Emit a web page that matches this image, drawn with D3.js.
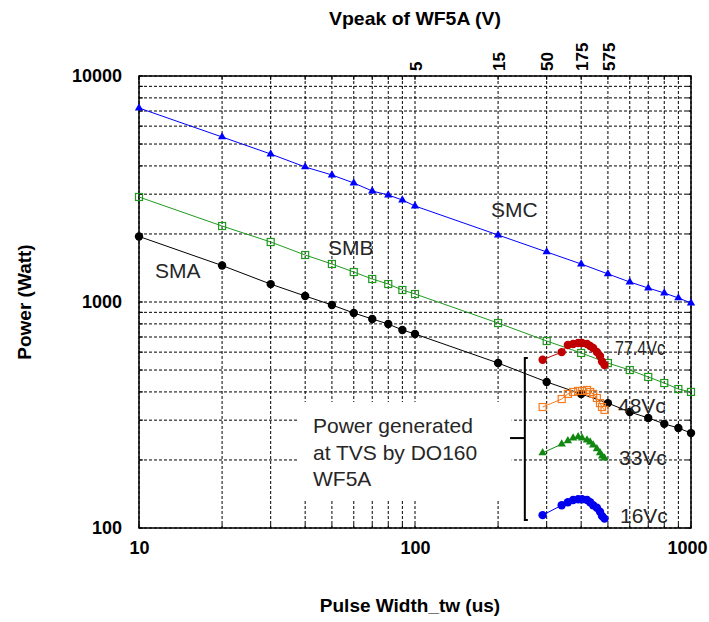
<!DOCTYPE html>
<html>
<head>
<meta charset="utf-8">
<script src="https://cdn.jsdelivr.net/npm/d3@7"></script>
<style>
  body { margin: 0; background: #fff; }
  svg { display: block; font-family: Arial, "Liberation Sans", sans-serif; }
</style>
</head>
<body>
<div id="chart"></div>
<script>
// pulse width (us) for the SMA / SMB / SMC derating lines
const pulseWidth = [10, 20, 30, 40, 50, 60, 70, 80, 90, 100, 200, 300, 400, 500, 600, 700, 800, 900, 1000];
const smaPower = [1950, 1450, 1200, 1063, 970, 894, 841, 799, 752, 722, 537, 443, 392, 357, 326, 307, 289, 277, 263];
const smbPower = [2915, 2169, 1843, 1614, 1473, 1357, 1264, 1201, 1130, 1085, 807, 672, 595, 537, 500, 466, 438, 412, 400];
const smcPower = [7217, 5373, 4517, 3958, 3648, 3362, 3098, 2974, 2827, 2659, 1979, 1665, 1473, 1331, 1226, 1153, 1096, 1042, 990];

// power generated at the TVS by DO160 WF5A
const wf5aTw = [290, 340, 358, 374, 390, 403, 420, 431, 442, 456, 468, 476, 486];
const wf5a774 = [555, 600, 645, 652, 659, 659, 652, 639, 626, 601, 577, 545, 526];
const wf5a48 = [343, 372, 392, 400, 404, 404, 408, 400, 392, 376, 357, 343, 333];
const wf5a33 = [215, 235, 243, 250, 253, 250, 245, 240, 233, 224, 215, 208, 204];
const wf5a16 = [114, 126, 130, 133, 134, 134, 133, 130, 126, 123, 118, 113, 110];

// axis ticks
const xTicks = [10, 100, 1000];
const yTicks = [100, 1000, 10000];
const topTicks = [100, 200, 300, 400, 500];
const topTickLabels = ["5", "15", "50", "175", "575"];

const W = 709, H = 622;
const margin = { top: 76, right: 18, bottom: 94, left: 139 };
const width = W - margin.left - margin.right;
const height = H - margin.top - margin.bottom;

const svg = d3.select("#chart").append("svg").attr("width", W).attr("height", H);
const g = svg.append("g").attr("transform", `translate(${margin.left},${margin.top})`);

const x = d3.scaleLog().domain([10, 1000]).range([0, width]);
const y = d3.scaleLog().domain([100, 10000]).range([height, 0]);

// dotted grid on every 1..9 step
const grid = g.append("g").attr("stroke", "#000").attr("stroke-width", 1).attr("stroke-dasharray", "3,2");
grid.selectAll(".gx").data(x.ticks()).enter().append("line")
  .attr("x1", d => x(d)).attr("x2", d => x(d)).attr("y1", 0).attr("y2", height);
grid.selectAll(".gy").data(y.ticks()).enter().append("line")
  .attr("y1", d => y(d)).attr("y2", d => y(d)).attr("x1", 0).attr("x2", width);

// white patch behind the note text
g.append("rect")
  .attr("x", x(37.4)).attr("y", y(361))
  .attr("width", x(224) - x(37.4)).attr("height", y(134) - y(361))
  .attr("fill", "#fff");

// frame + small inner ticks
g.append("rect").attr("width", width).attr("height", height)
  .attr("fill", "none").attr("stroke", "#000").attr("stroke-width", 1.5);
const tk = g.append("g").attr("stroke", "#000").attr("stroke-width", 1);
x.ticks().forEach(d => {
  tk.append("line").attr("x1", x(d)).attr("x2", x(d)).attr("y1", height).attr("y2", height - 4);
  tk.append("line").attr("x1", x(d)).attr("x2", x(d)).attr("y1", 0).attr("y2", 4);
});
y.ticks().forEach(d => {
  tk.append("line").attr("y1", y(d)).attr("y2", y(d)).attr("x1", 0).attr("x2", 4);
  tk.append("line").attr("y1", y(d)).attr("y2", y(d)).attr("x1", width).attr("x2", width - 4);
});

// axes
const bottomAxis = g.append("g").attr("transform", `translate(0,${height})`)
  .call(d3.axisBottom(x).tickValues(xTicks).tickFormat(d3.format("d")).tickSize(0).tickPadding(13));
const leftAxis = g.append("g")
  .call(d3.axisLeft(y).tickValues(yTicks).tickFormat(d3.format("d")).tickSize(0).tickPadding(17));
const topAxis = g.append("g")
  .call(d3.axisTop(x).tickValues(topTicks).tickFormat((d, i) => topTickLabels[i]).tickSize(0));

[bottomAxis, leftAxis, topAxis].forEach(a => {
  a.select(".domain").remove();
  a.selectAll("text").attr("fill", "#000").style("font-size", "18px").style("font-weight", "bold")
    .style("font-family", "Arial, 'Liberation Sans', sans-serif");
});
// keep "1000" inside the window
bottomAxis.selectAll("text").filter(d => d === 1000).attr("dx", -4);
topAxis.selectAll("text")
  .attr("transform", "rotate(-90)")
  .attr("x", 5).attr("y", 0).attr("dy", "0.36em")
  .attr("text-anchor", "start")
  .style("font-size", "17px");

// series helpers
const line = d3.line().x(d => x(d[0])).y(d => y(d[1]));
function drawSeries(tw, vals, color, marker, lw) {
  const pts = tw.map((t, i) => [t, vals[i]]);
  const s = g.append("g");
  s.append("path").datum(pts).attr("d", line)
    .attr("fill", "none").attr("stroke", color).attr("stroke-width", lw);
  if (marker === "circle") {
    s.selectAll("circle").data(pts).enter().append("circle")
      .attr("cx", d => x(d[0])).attr("cy", d => y(d[1])).attr("r", 4.2).attr("fill", color);
  } else if (marker === "square") {
    s.selectAll("rect").data(pts).enter().append("rect")
      .attr("x", d => x(d[0]) - 3.5).attr("y", d => y(d[1]) - 3.5)
      .attr("width", 7).attr("height", 7)
      .attr("fill", "none").attr("stroke", color).attr("stroke-width", 1.2);
  } else {
    s.selectAll("path.m").data(pts).enter().append("path").attr("class", "m")
      .attr("d", d3.symbol(d3.symbolTriangle, 30))
      .attr("transform", d => `translate(${x(d[0])},${y(d[1])})`)
      .attr("fill", color);
  }
}

drawSeries(pulseWidth, smcPower, "#0000ff", "triangle", 1);
drawSeries(pulseWidth, smbPower, "#1f9a1f", "square", 1);
drawSeries(pulseWidth, smaPower, "#000000", "circle", 1);

drawSeries(wf5aTw, wf5a774, "#c00000", "circle", 1);
drawSeries(wf5aTw, wf5a48, "#f47b20", "square", 1);
drawSeries(wf5aTw, wf5a33, "#118811", "triangle", 1);
drawSeries(wf5aTw, wf5a16, "#0000ee", "circle", 1);

// bracket grouping the WF5A curves
const bx = x(250);
const br = g.append("g").attr("stroke", "#000").attr("stroke-width", 2).attr("fill", "none");
br.append("path").attr("d",
  `M${bx + 3},${y(565)} L${bx},${y(565)} L${bx},${y(108.5)} L${bx + 3},${y(108.5)}`);
br.append("line").attr("x1", x(221)).attr("x2", bx).attr("y1", y(250)).attr("y2", y(250));

// in-plot annotations
const note = g.append("g").attr("fill", "#262626").style("font-size", "21px");
note.append("text").attr("x", 16).attr("y", 202).text("SMA");
note.append("text").attr("x", 189).attr("y", 179).text("SMB");
note.append("text").attr("x", 352).attr("y", 141).text("SMC");
const pg = note.append("text").attr("x", 174).attr("y", 357);
["Power generated", "at TVS by DO160", "WF5A"].forEach((t, i) => {
  pg.append("tspan").attr("x", 174).attr("dy", i === 0 ? 0 : 26.5).text(t);
});
note.append("text").attr("x", 476).attr("y", 279).attr("textLength", 50).attr("lengthAdjust", "spacingAndGlyphs").text("77.4Vc");
note.append("text").attr("x", 479).attr("y", 337).text("48Vc");
note.append("text").attr("x", 480).attr("y", 389).text("33Vc");
note.append("text").attr("x", 481).attr("y", 447).text("16Vc");

// axis titles
svg.append("text").attr("x", 415).attr("y", 25).attr("text-anchor", "middle")
  .style("font-size", "19px").style("font-weight", "bold")
  .attr("textLength", 172).attr("lengthAdjust", "spacingAndGlyphs")
  .text("Vpeak of WF5A (V)");
svg.append("text").attr("transform", "translate(31,302) rotate(-90)").attr("text-anchor", "middle")
  .style("font-size", "19px").style("font-weight", "bold")
  .text("Power (Watt)");
svg.append("text").attr("x", 410).attr("y", 612).attr("text-anchor", "middle")
  .style("font-size", "19px").style("font-weight", "bold")
  .text("Pulse Width_tw (us)");
</script>
</body>
</html>
